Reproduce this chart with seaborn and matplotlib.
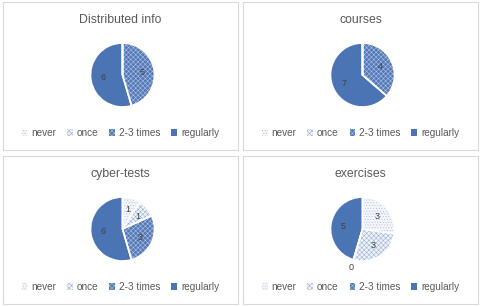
import numpy as np
import seaborn as sns
import matplotlib
matplotlib.use("Agg")
import matplotlib.pyplot as plt
from matplotlib.patches import Patch

# ---------------- data ----------------
categories = ["never", "once", "2-3 times", "regularly"]
titles = ["Distributed info", "courses", "cyber-tests", "exercises"]
distributed_info = [0, 0, 5, 6]
courses = [0, 0, 4, 7]
cyber_tests = [1, 1, 3, 6]
exercises = [3, 3, 0, 5]
show_zero = [False, False, False, True]

sns.set_theme(style="white")
plt.rcParams['font.family'] = ['Liberation Sans', 'DejaVu Sans']
plt.rcParams['hatch.linewidth'] = 0.35

text_col = "#595959"
blue = "#4a74b4"
# face colour, hatch, hatch colour for each category
styles = [("#f4f6fb", "......", "#a9bbdb"),
          ("#eef2f9", "xxxxxxx", "#94abd3"),
          ("#5479b8", "xxxxxxx", "#b9c9e6"),
          (blue, None, blue)]

fig = plt.figure(figsize=(4.8, 3.06), dpi=100)
W, H = 480, 306

def px_axes(x0, y0, x1, y1):
    return fig.add_axes([x0 / W, 1 - y1 / H, (x1 - x0) / W, (y1 - y0) / H])

panels = [(3, 2, 238, 150), (243, 2, 478, 150), (3, 156, 238, 304), (243, 156, 478, 304)]
all_data = [distributed_info, courses, cyber_tests, exercises]

for (x0, y0, x1, y1), title, vals, zero in zip(panels, titles, all_data, show_zero):
    frame = px_axes(x0, y0, x1, y1)
    frame.set_xticks([])
    frame.set_yticks([])
    for s in frame.spines.values():
        s.set_color("#d9d9d9")
        s.set_linewidth(0.8)
    frame.set_title(title, fontsize=8.8, color=text_col, y=0.80)

    cx, cy, r = (x0 + x1) / 2 + 2, y0 + 73, 32
    ax = px_axes(cx - r, cy - r, cx + r, cy + r)
    wedges, _ = ax.pie(vals, startangle=90, counterclock=False, radius=1,
                       wedgeprops=dict(linewidth=0))
    for w, (fc, hatch, hc) in zip(wedges, styles):
        w.set_facecolor(fc)
        w.set_edgecolor(hc)
        if hatch:
            w.set_hatch(hatch)
    # white separators on top
    ax.pie(vals, startangle=90, counterclock=False, radius=1,
           wedgeprops=dict(facecolor="none", edgecolor="white", linewidth=1.2))
    # data labels
    total = sum(vals)
    start = 90
    for v in vals:
        ang = np.deg2rad(start - 360 * v / total / 2)
        if v > 0:
            ax.text(0.62 * np.cos(ang), 0.62 * np.sin(ang), str(v),
                    ha="center", va="center", fontsize=6.5, color="#404040")
        elif zero:
            ax.text(1.25 * np.cos(ang), 1.25 * np.sin(ang), str(v),
                    ha="center", va="center", fontsize=6.5, color="#404040")
        start -= 360 * v / total
    ax.set_xlim(-1, 1)
    ax.set_ylim(-1, 1)
    ax.set_aspect("equal")
    ax.axis("off")

    handles = [Patch(facecolor=fc, edgecolor=hc, hatch=hatch, linewidth=0)
               for fc, hatch, hc in styles]
    frame.legend(handles, categories, loc="lower center", bbox_to_anchor=(0.5, 0.02),
                 ncol=4, frameon=False, fontsize=7.2, labelcolor=text_col,
                 handlelength=0.55, handleheight=0.55, handletextpad=0.4,
                 columnspacing=1.1)

plt.savefig("out.png", dpi=100)
